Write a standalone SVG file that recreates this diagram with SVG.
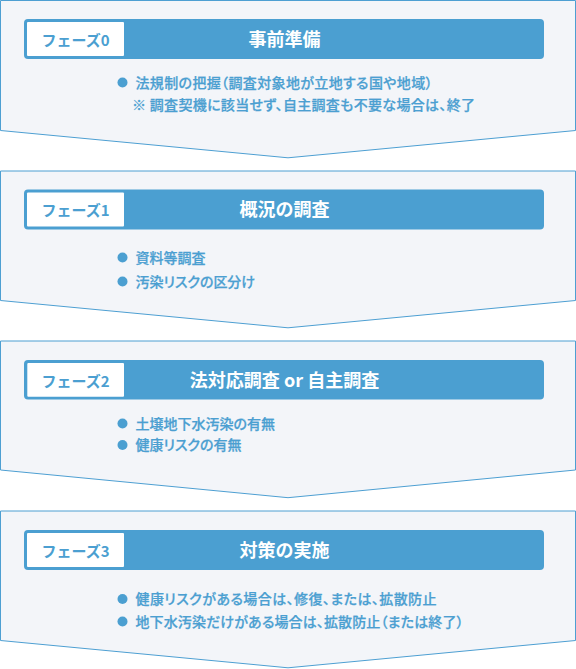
<svg xmlns="http://www.w3.org/2000/svg" width="576" height="669" viewBox="0 0 576 669">
<style>
.panel{fill:#f3f5f9;stroke:#4d9fd2;stroke-width:1}
.bar{fill:#4b9fd1}
.tag{fill:#ffffff}
.phase{font-family:"Noto Sans CJK JP",sans-serif;font-size:15px;font-weight:bold;fill:#4b9fd1;text-anchor:middle}
.title{font-family:"Noto Sans CJK JP",sans-serif;font-size:18px;font-weight:bold;fill:#ffffff;text-anchor:middle}
.item{font-family:"Noto Sans CJK JP",sans-serif;font-size:14px;font-weight:500;fill:#4b9fd1;stroke:#4b9fd1;stroke-width:0.25;font-feature-settings:"palt" 1}
.dot{fill:#4b9fd1}
</style>
<rect x="0" y="0" width="576" height="669" fill="#ffffff"/>
<g id="phase0">
<path class="panel" d="M0.5,0.5 L575.5,0.5 L575.5,130.5 L288,157.8 L0.5,130.5 Z"/>
<rect class="bar" x="24" y="19" width="520" height="40" rx="4"/>
<rect class="tag" x="27" y="22" width="97" height="34" rx="1"/>
<text class="phase" x="75.5" y="45.5">フェーズ0</text>
<text class="title" x="284.5" y="45.5">事前準備</text>
<circle class="dot" cx="122.5" cy="82.5" r="5"/>
<text class="item" x="135.5" y="87.5" textLength="297" lengthAdjust="spacing">法規制の把握（調査対象地が立地する国や地域）</text>
<text class="item" x="132" y="109.5" textLength="343" lengthAdjust="spacing">※ 調査契機に該当せず、自主調査も不要な場合は、終了</text>
</g>
<g id="phase1">
<path class="panel" d="M0.5,171 L575.5,171 L575.5,300.5 L288,327.8 L0.5,300.5 Z"/>
<rect class="bar" x="24" y="189.5" width="520" height="40" rx="4"/>
<rect class="tag" x="27" y="192.5" width="97" height="34" rx="1"/>
<text class="phase" x="75.5" y="216">フェーズ1</text>
<text class="title" x="284.5" y="216">概況の調査</text>
<circle class="dot" cx="122.5" cy="257.5" r="5"/>
<text class="item" x="135.5" y="262.5" textLength="70" lengthAdjust="spacing">資料等調査</text>
<circle class="dot" cx="122.5" cy="281.5" r="5"/>
<text class="item" x="135.5" y="286.5" textLength="119.5" lengthAdjust="spacing">汚染リスクの区分け</text>
</g>
<g id="phase2">
<path class="panel" d="M0.5,341 L575.5,341 L575.5,470 L288,497.7 L0.5,470 Z"/>
<rect class="bar" x="24" y="360" width="520" height="39.5" rx="4"/>
<rect class="tag" x="27.3" y="363" width="96.7" height="33.7" rx="1"/>
<text class="phase" x="75.5" y="386.5">フェーズ2</text>
<text class="title" x="284.5" y="386.5">法対応調査 or 自主調査</text>
<circle class="dot" cx="122.5" cy="423.5" r="5"/>
<text class="item" x="135.5" y="428.5" textLength="139.5" lengthAdjust="spacing">土壌地下水汚染の有無</text>
<circle class="dot" cx="122.5" cy="445" r="5"/>
<text class="item" x="135.5" y="450" textLength="106" lengthAdjust="spacing">健康リスクの有無</text>
</g>
<g id="phase3">
<path class="panel" d="M0.5,511 L575.5,511 L575.5,640.5 L288,667.8 L0.5,640.5 Z"/>
<rect class="bar" x="24" y="530" width="520" height="40" rx="4"/>
<rect class="tag" x="27" y="533" width="97" height="34" rx="1"/>
<text class="phase" x="75.5" y="556.5">フェーズ3</text>
<text class="title" x="284.5" y="556.5">対策の実施</text>
<circle class="dot" cx="122.5" cy="599" r="5"/>
<text class="item" x="135.5" y="604" textLength="301" lengthAdjust="spacing">健康リスクがある場合は、修復、または、拡散防止</text>
<circle class="dot" cx="122.5" cy="621.5" r="5"/>
<text class="item" x="135.5" y="626.5" textLength="328" lengthAdjust="spacing">地下水汚染だけがある場合は、拡散防止（または終了）</text>
</g>
<g id="connectors"></g>
</svg>
